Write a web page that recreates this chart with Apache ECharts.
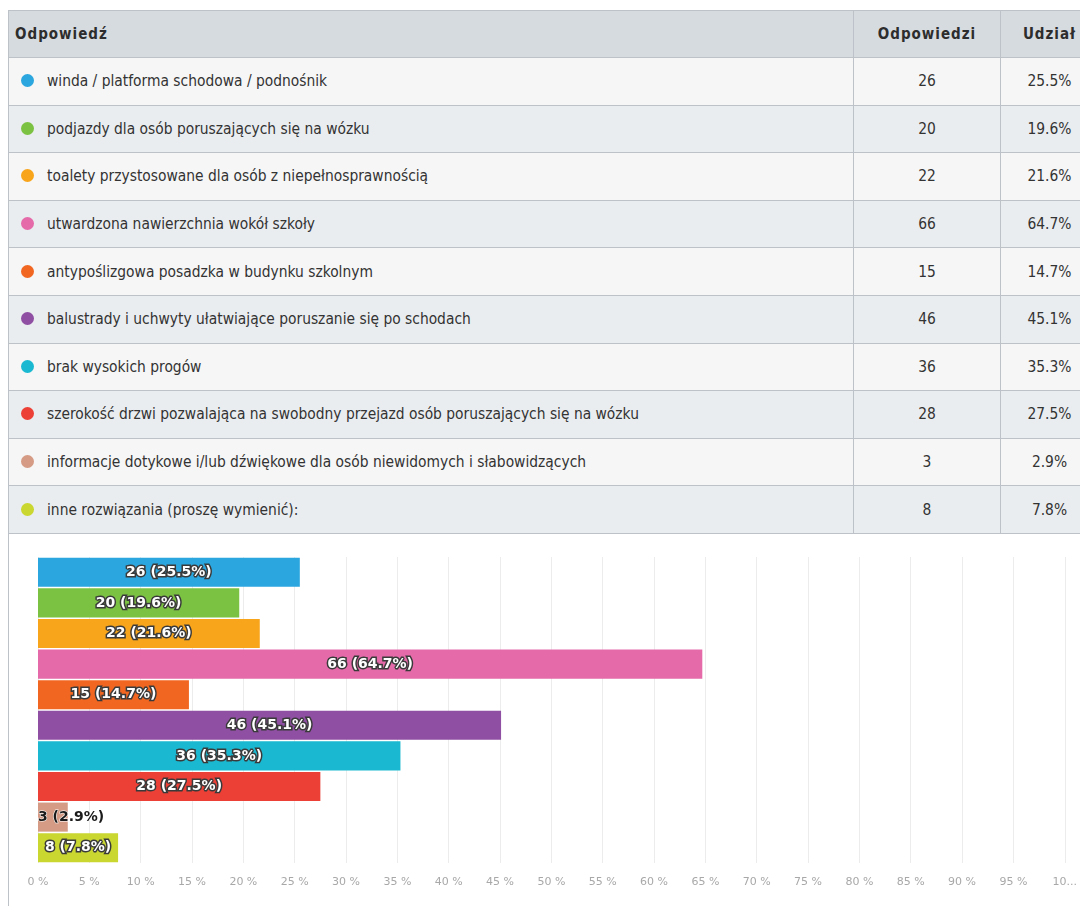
<!DOCTYPE html>
<html>
<head>
<meta charset="utf-8">
<script src="https://cdn.jsdelivr.net/npm/echarts@6/dist/echarts.min.js"></script>
<style>
  html, body { margin: 0; padding: 0; background: #fff; width: 1080px; height: 906px; overflow: hidden; }
  #wrap { position: absolute; left: 8px; top: 10px; width: 1090px; }
  table { border-collapse: collapse; width: 1090px; table-layout: fixed;
    font-family: "Liberation Sans Narrow", "DejaVu Sans Condensed", "Roboto Condensed", Lato, sans-serif;
    font-size: 15.4px; color: #333; }
  th, td { border: 1px solid #bcc2c8; padding: 0; }
  th { background: #d6dbe0; height: 46px; font-weight: bold; letter-spacing: 1px; color: #2d2d2d; font-size: 15px; }
  td { height: 46.6px; }
  tr.odd td { background: #f6f6f6; }
  tr.even td { background: #eaedf0; }
  .c1 { text-align: left; padding-left: 6px; }
  .c2, .c3 { text-align: center; }
  .dot { display: inline-block; width: 13px; height: 13px; border-radius: 50%; margin: 0 13px 0 6px; vertical-align: -1px; }
  #chart { position: absolute; left: 8px; top: 533px; width: 1071px; height: 373px; border-left: 1px solid #bcc2c8; }
</style>
</head>
<body>
<div id="wrap">
  <table id="tbl">
    <colgroup><col style="width:845px"><col style="width:147px"><col style="width:98px"></colgroup>
    <thead><tr><th class="c1">Odpowiedź</th><th class="c2">Odpowiedzi</th><th class="c3">Udział</th></tr></thead>
    <tbody id="rows"></tbody>
  </table>
</div>
<div id="chart"></div>
<script>
// odpowiedzi
let categories = [
  'winda / platforma schodowa / podnośnik',
  'podjazdy dla osób poruszających się na wózku',
  'toalety przystosowane dla osób z niepełnosprawnością',
  'utwardzona nawierzchnia wokół szkoły',
  'antypoślizgowa posadzka w budynku szkolnym',
  'balustrady i uchwyty ułatwiające poruszanie się po schodach',
  'brak wysokich progów',
  'szerokość drzwi pozwalająca na swobodny przejazd osób poruszających się na wózku',
  'informacje dotykowe i/lub dźwiękowe dla osób niewidomych i słabowidzących',
  'inne rozwiązania (proszę wymienić):'
]
let counts = [26, 20, 22, 66, 15, 46, 36, 28, 3, 8]
let shares = [25.5, 19.6, 21.6, 64.7, 14.7, 45.1, 35.3, 27.5, 2.9, 7.8]
let colors = ['#2ba6de', '#7cc242', '#f8a51c', '#e46aa9', '#f16722', '#8f4fa3', '#1ab9d1', '#ec3f36', '#d59b84', '#c9d730']

// tabela
let rows = document.getElementById('rows')
categories.forEach((name, i) => {
  let tr = document.createElement('tr')
  tr.className = i % 2 === 0 ? 'odd' : 'even'
  tr.innerHTML = '<td class="c1"><span class="dot" style="background:' + colors[i] + '"></span>' + name + '</td>' +
    '<td class="c2">' + counts[i] + '</td><td class="c3">' + shares[i] + '%</td>'
  rows.appendChild(tr)
})

// wykres
let chart = echarts.init(document.getElementById('chart'))
let barData = shares.map((v, i) => {
  let item = { value: v, itemStyle: { color: colors[i] } }
  if (v < 5) {
    // za mała belka - etykieta na zewnątrz, ciemna
    item.label = { position: 'insideLeft', distance: 0, color: '#1a1a1a', textBorderColor: '#fff', textBorderWidth: 1 }
  }
  return item
})
chart.setOption({
  animation: false,
  grid: { left: 29, right: 15, top: 24, bottom: 43 },
  xAxis: {
    type: 'value',
    min: 0,
    max: 100,
    interval: 5,
    axisLine: { show: false },
    axisTick: { show: false },
    axisLabel: {
      formatter: '{value} %',
      color: '#a8a8a8',
      fontSize: 11,
      fontFamily: 'DejaVu Sans',
      margin: 14,
      width: 30,
      overflow: 'truncate'
    },
    splitLine: { lineStyle: { color: '#ececec' } }
  },
  yAxis: {
    type: 'category',
    inverse: true,
    data: categories,
    axisLine: { show: false },
    axisTick: { show: false },
    axisLabel: { show: false }
  },
  series: [{
    type: 'bar',
    data: barData,
    barCategoryGap: '5%',
    label: {
      show: true,
      position: 'inside',
      color: '#fff',
      fontWeight: 'bold',
      fontSize: 14,
      fontFamily: 'DejaVu Sans',
      textBorderColor: '#3a3a3a',
      textBorderWidth: 3,
      formatter: p => counts[p.dataIndex] + ' (' + shares[p.dataIndex] + '%)'
    }
  }]
})
</script>
</body>
</html>
